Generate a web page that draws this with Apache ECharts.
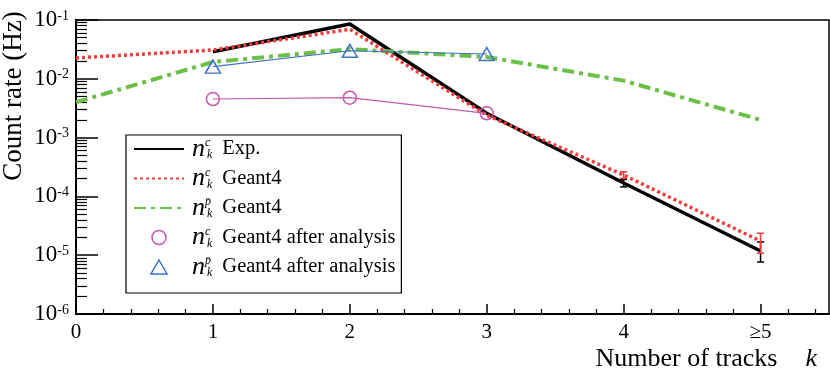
<!DOCTYPE html>
<html>
<head>
<meta charset="utf-8">
<script src="https://cdn.jsdelivr.net/npm/echarts@6/dist/echarts.min.js"></script>
<style>
  html, body { margin: 0; padding: 0; background: #fff; }
  #chart { width: 830px; height: 378px; }
</style>
</head>
<body>
<div id="chart"></div>
<script>
// number of tracks k (5 stands for >=5)
const tracks = [0, 1, 2, 3, 4, 5];
const xTickLabels = ['0', '1', '2', '3', '4', '≥5'];
const xMinorTicks = [0.2, 0.4, 0.6, 0.8, 1.2, 1.4, 1.6, 1.8, 2.2, 2.4, 2.6, 2.8,
  3.2, 3.4, 3.6, 3.8, 4.2, 4.4, 4.6, 4.8, 5.2, 5.4];
const yMajorTicks = [1e-6, 1e-5, 1e-4, 1e-3, 1e-2, 1e-1];
const yMinorTicks = [
  2e-6, 3e-6, 4e-6, 5e-6, 6e-6, 7e-6, 8e-6, 9e-6,
  2e-5, 3e-5, 4e-5, 5e-5, 6e-5, 7e-5, 8e-5, 9e-5,
  2e-4, 3e-4, 4e-4, 5e-4, 6e-4, 7e-4, 8e-4, 9e-4,
  2e-3, 3e-3, 4e-3, 5e-3, 6e-3, 7e-3, 8e-3, 9e-3,
  2e-2, 3e-2, 4e-2, 5e-2, 6e-2, 7e-2, 8e-2, 9e-2
];

// count rates (Hz)
const expRate = [null, 0.0289, 0.0855, 0.0026, 1.69e-4, 1.18e-5];
const g4Rate = [0.0226, 0.0309, 0.0695, 0.0024, 2.31e-4, 1.74e-5];
const pbarRate = [0.0040, 0.0193, 0.032, 0.0235, 0.0093, 0.0020];
const g4CutRate = [null, 0.00453, 0.00477, 0.00259, null, null];
const pbarCutRate = [null, 0.0161, 0.0300, 0.0264, null, null];

// error bars
const errX = [4, 5];
const expErrLow = [1.45e-4, 7.66e-6];
const expErrHigh = [1.94e-4, 1.68e-5];
const g4ErrLow = [2.03e-4, 1.08e-5];
const g4ErrHigh = [2.63e-4, 2.36e-5];

const legendLabels = {
  ncExp: ['c', 'Exp.'],
  ncG4: ['c', 'Geant4'],
  npG4: ['p\u0304', 'Geant4'],
  ncG4cut: ['c', 'Geant4 after analysis'],
  npG4cut: ['p\u0304', 'Geant4 after analysis']
};

const serif = 'Liberation Serif';
const pink = '#c657ad';
const blue = '#3c73c4';
const red = '#f23b3b';
const green = '#6cc04a';
const pairs = (ys) => tracks.map((x, i) => [x, ys[i]]).filter(p => p[1] != null);
const errPairs = (lo, hi) => errX.map((x, i) => [x, lo[i], hi[i]]);

const chart = echarts.init(document.getElementById('chart'));

const errorBar = (color) => (params, api) => {
  const x = api.value(0);
  const top = api.coord([x, api.value(2)]);
  const bot = api.coord([x, api.value(1)]);
  const w = 3.5;
  const style = { stroke: color, lineWidth: 1.5 };
  return {
    type: 'group',
    children: [
      { type: 'line', shape: { x1: top[0], y1: top[1], x2: bot[0], y2: bot[1] }, style },
      { type: 'line', shape: { x1: top[0] - w, y1: top[1], x2: top[0] + w, y2: top[1] }, style },
      { type: 'line', shape: { x1: bot[0] - w, y1: bot[1], x2: bot[0] + w, y2: bot[1] }, style }
    ]
  };
};

const option = {
  animation: false,
  backgroundColor: '#fff',
  grid: {
    left: 76, right: 1, top: 20, bottom: 64,
    show: true, borderColor: '#000', borderWidth: 1.5
  },
  xAxis: [
    {
      type: 'value', min: 0, max: 5.5,
      axisLine: { show: true, lineStyle: { color: '#000', width: 2 } },
      axisTick: { inside: true, length: 10, customValues: tracks, lineStyle: { color: '#000', width: 1.5 } },
      axisLabel: {
        customValues: tracks, margin: 8, color: '#000', fontFamily: serif, fontSize: 21,
        formatter: v => xTickLabels[tracks.indexOf(v)]
      },
      splitLine: { show: false }
    },
    {
      type: 'value', min: 0, max: 5.5, position: 'bottom',
      axisLine: { show: false },
      axisTick: { inside: true, length: 5, customValues: xMinorTicks, lineStyle: { color: '#000', width: 1.2 } },
      axisLabel: { show: false },
      splitLine: { show: false }
    }
  ],
  yAxis: [
    {
      type: 'log', min: 1e-6, max: 1e-1, logBase: 10,
      axisLine: { show: true, lineStyle: { color: '#000', width: 2 } },
      axisTick: { inside: true, length: 22, customValues: yMajorTicks, lineStyle: { color: '#000', width: 1.5 } },
      axisLabel: {
        customValues: yMajorTicks, margin: 7, color: '#000',
        formatter: v => '{b|10}{s|' + Math.round(Math.log10(v)) + '}',
        rich: {
          b: { fontFamily: serif, fontSize: 23, lineHeight: 22 },
          s: { fontFamily: serif, fontSize: 14, lineHeight: 14, verticalAlign: 'top' }
        }
      },
      splitLine: { show: false }
    },
    {
      type: 'log', min: 1e-6, max: 1e-1, logBase: 10, position: 'left',
      axisLine: { show: false },
      axisTick: { inside: true, length: 11, customValues: yMinorTicks, lineStyle: { color: '#000', width: 1.2 } },
      axisLabel: { show: false },
      splitLine: { show: false }
    }
  ],
  legend: {
    orient: 'vertical', left: 126, top: 135,
    backgroundColor: '#fff', borderColor: '#000', borderWidth: 1.2, borderRadius: 0,
    padding: [1, 6, 13, 7],
    itemWidth: 50, itemHeight: 14, itemGap: 3.5,
    selectedMode: false,
    symbolKeepAspect: true,
    data: [
      { name: 'ncExp', itemStyle: { opacity: 0 } },
      { name: 'ncG4', itemStyle: { opacity: 0 } },
      { name: 'npG4', itemStyle: { opacity: 0 } },
      { name: 'ncG4cut', icon: 'circle', itemStyle: { color: 'rgba(0,0,0,0)', borderColor: pink, borderWidth: 1.5 } },
      { name: 'npG4cut', icon: 'path://M7.5,0L15,13L0,13Z', itemStyle: { color: 'rgba(0,0,0,0)', borderColor: blue, borderWidth: 1.5 } }
    ],
    formatter: name => '{n|n}{u|' + legendLabels[name][0] + '}{d|k}{t|' + legendLabels[name][1] + '}',
    textStyle: {
      color: '#000',
      rich: {
        n: { fontFamily: serif, fontStyle: 'italic', fontSize: 26, lineHeight: 24, padding: [0, 0, 0, 3] },
        u: { fontFamily: serif, fontStyle: 'italic', fontSize: 12, lineHeight: 12, verticalAlign: 'top', width: 2 },
        d: { fontFamily: serif, fontStyle: 'italic', fontSize: 12, lineHeight: 12, verticalAlign: 'bottom' },
        t: { fontFamily: serif, fontSize: 20.5, lineHeight: 24, padding: [0, 0, 0, 10] }
      }
    }
  },
  graphic: [
    {
      type: 'text', x: 14, y: 96, rotation: Math.PI / 2,
      style: { text: 'Count rate (Hz)', fontFamily: serif, fontSize: 27, fill: '#000', align: 'center', verticalAlign: 'middle' }
    },
    {
      type: 'text', right: 13, top: 346,
      style: {
        text: '{a|Number of tracks}{k|k}', fill: '#000',
        rich: {
          a: { fontFamily: serif, fontSize: 26 },
          k: { fontFamily: serif, fontSize: 26, fontStyle: 'italic', padding: [0, 0, 0, 28] }
        }
      }
    }
  ],
  series: [
    {
      name: 'ncExp', type: 'line', data: pairs(expRate), symbol: 'none',
      lineStyle: { color: '#000', width: 3.5 }, itemStyle: { color: '#000' }, z: 3
    },
    {
      name: 'ncG4', type: 'line', data: pairs(g4Rate), symbol: 'none',
      lineStyle: { color: red, width: 3.5, type: [3, 3] }, itemStyle: { color: red }, z: 4
    },
    {
      name: 'npG4', type: 'line', data: pairs(pbarRate), symbol: 'none',
      lineStyle: { color: green, width: 4, type: [12, 5, 4, 5] }, itemStyle: { color: green }, z: 3
    },
    {
      name: 'ncG4cut', type: 'line', data: pairs(g4CutRate), symbol: 'circle', symbolSize: 13,
      lineStyle: { color: pink, width: 1.2 },
      itemStyle: { color: 'rgba(0,0,0,0)', borderColor: pink, borderWidth: 1.5 }, z: 5
    },
    {
      name: 'npG4cut', type: 'line', data: pairs(pbarCutRate), symbol: 'triangle', symbolSize: [15, 13],
      lineStyle: { color: blue, width: 1.2 },
      itemStyle: { color: 'rgba(0,0,0,0)', borderColor: blue, borderWidth: 1.5 }, z: 5
    },
    {
      name: 'errExp', type: 'custom', data: errPairs(expErrLow, expErrHigh),
      renderItem: errorBar('#000'), encode: { x: 0, y: [1, 2] }, z: 3
    },
    {
      name: 'errG4', type: 'custom', data: errPairs(g4ErrLow, g4ErrHigh),
      renderItem: errorBar(red), encode: { x: 0, y: [1, 2] }, z: 4
    }
  ]
};

chart.setOption(option);
</script>
</body>
</html>
